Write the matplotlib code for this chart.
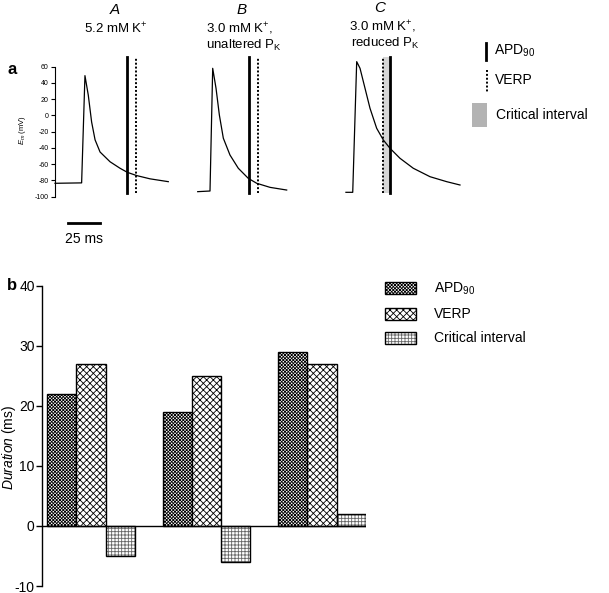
import matplotlib
matplotlib.use("Agg")
import matplotlib.pyplot as plt
from matplotlib.lines import Line2D
from matplotlib.patches import Rectangle
import numpy as np

plt.rcParams['font.family'] = ['Liberation Sans', 'DejaVu Sans']
plt.rcParams['mathtext.fontset'] = 'custom'
plt.rcParams['mathtext.rm'] = 'Liberation Sans'
plt.rcParams['mathtext.it'] = 'Liberation Sans:italic'
plt.rcParams['mathtext.bf'] = 'Liberation Sans:bold'
plt.rcParams['hatch.linewidth'] = 0.6
plt.rcParams['axes.unicode_minus'] = False

# ---------------- data: panel a (action potential traces, time in ms on shared axis) ---
trace_a_t = [0, 20.8, 23.4, 26.0, 28.6, 31.3, 35.2, 43.0, 50.8, 56.5, 63.8, 74.2, 88.5]
trace_a_v = [-83.5, -83, 49, 25, -8, -30, -45, -57, -65, -70, -74, -78, -81.5]
trace_b_t = [111.5, 121.1, 123.2, 125.8, 128.4, 131.5, 136.7, 143.2, 151.0, 157.6, 168.0, 181.0]
trace_b_v = [-93.8, -93, 58, 33.4, 0.6, -28, -48.7, -65, -77.4, -83.5, -88.5, -91.8]
trace_c_t = [227.3, 232.6, 235.7, 238.3, 242.2, 246.1, 251.3, 256.5, 261.7, 269.5, 279.9, 293.0, 306.0, 316.4]
trace_c_v = [-94.6, -94.6, 66.2, 58, 33.4, 8.8, -15.8, -30.2, -40.4, -52.7, -65, -75.4, -81.5, -85.6]
apd_marks = [56.5, 151.8, 261.7]
verp_marks = [63.0, 158.4, 256.0]
mark_range = [-95.8, 72.3]
scale_bar_ms = 25
yticks_a = [-100, -80, -60, -40, -20, 0, 20, 40, 60]

# ---------------- data: panel b ----------------
groups = ['A', 'B', 'C']
apd90 = [22, 19, 29]
verp = [27, 25, 27]
critical = [-5, -6, 2]
yticks_b = [-10, 0, 10, 20, 30, 40]

W, H = 609, 593
fig = plt.figure(figsize=(W / 100, H / 100), dpi=100)

def fx(px):
    return px / W

def fy(py):
    return 1 - py / H

# ---------------- panel a ----------------
axa = fig.add_axes([fx(55), fy(196.7), fx(470) - fx(55), fy(54.5) - fy(196.7)])
axa.set_xlim(0, (470 - 55) / 1.28)
axa.set_ylim(-100, 75)
for s in ['top', 'right', 'bottom']:
    axa.spines[s].set_visible(False)
axa.spines['left'].set_bounds(-100, 60)
axa.spines['left'].set_linewidth(0.8)
axa.set_xticks([])
axa.set_yticks(yticks_a)
axa.tick_params(axis='y', direction='out', length=3, width=0.8, labelsize=5, pad=1.5)

for t, v in [(trace_a_t, trace_a_v), (trace_b_t, trace_b_v), (trace_c_t, trace_c_v)]:
    axa.plot(t, v, color='black', lw=0.9, clip_on=False)

axa.fill_betweenx(mark_range, verp_marks[2], apd_marks[2], color='#d6d6d6', lw=0, clip_on=False, zorder=1)
for xm in apd_marks:
    axa.plot([xm, xm], mark_range, color='black', lw=2, clip_on=False, zorder=3)
for xm in verp_marks:
    axa.plot([xm, xm], mark_range, color='black', lw=1.4, ls=(0, (1, 1)), clip_on=False, zorder=3)

sb0 = (68 - 55) / 1.28
axa.plot([sb0, sb0 + scale_bar_ms], [-132, -132], color='black', lw=2, clip_on=False)
axa.text(sb0 + scale_bar_ms / 2, -143, f"{scale_bar_ms} ms", ha='center', va='top', fontsize=10)

fig.text(fx(22), fy(130), r"$E_m$ (mV)", rotation=90, ha='center', va='center', fontsize=5.5)
fig.text(fx(12), fy(70), "a", fontsize=12, fontweight='bold', ha='center', va='center')

fig.text(fx(115), fy(10), "A", fontsize=11, style='italic', ha='center', va='center')
fig.text(fx(116), fy(28.5), r"5.2 mM K$^{+}$", fontsize=9.5, ha='center', va='center')
fig.text(fx(242), fy(10), "B", fontsize=11, style='italic', ha='center', va='center')
fig.text(fx(240), fy(28.5), r"3.0 mM K$^{+}$,", fontsize=9.5, ha='center', va='center')
fig.text(fx(244), fy(45), r"unaltered P$_{\mathrm{K}}$", fontsize=9.5, ha='center', va='center')
fig.text(fx(380), fy(8), "C", fontsize=11, style='italic', ha='center', va='center')
fig.text(fx(383), fy(27), r"3.0 mM K$^{+}$,", fontsize=9.5, ha='center', va='center')
fig.text(fx(385), fy(43.5), r"reduced P$_{\mathrm{K}}$", fontsize=9.5, ha='center', va='center')

fig.add_artist(Line2D([fx(486), fx(486)], [fy(43), fy(60)], color='black', lw=2))
fig.text(fx(494), fy(51), r"APD$_{90}$", fontsize=10, ha='left', va='center')
fig.add_artist(Line2D([fx(487), fx(487)], [fy(70), fy(92)], color='black', lw=1.4, ls=(0, (1, 1))))
fig.text(fx(495), fy(80), "VERP", fontsize=10, ha='left', va='center')
fig.add_artist(Rectangle((fx(472), fy(127)), fx(487) - fx(472), fy(103) - fy(127),
                         transform=fig.transFigure, facecolor='#b3b3b3', edgecolor='none'))
fig.text(fx(496), fy(115), "Critical interval", fontsize=10, ha='left', va='center')

# ---------------- panel b ----------------
axb = fig.add_axes([fx(42.3), fy(586), fx(365.7) - fx(42.3), fy(285.7) - fy(586)])
x = np.arange(len(groups))
w = 0.2522
b1 = axb.bar(x - w, apd90, width=w, facecolor='white', edgecolor='black', hatch='xxxxxxxxxx', lw=1)
b2 = axb.bar(x, verp, width=w, facecolor='white', edgecolor='black', hatch='xxxxx', lw=1)
b3h = axb.bar(x + w, critical, width=w, facecolor='white', edgecolor='#666666', hatch='+++++', lw=0)
b3o = axb.bar(x + w, critical, width=w, fill=False, edgecolor='black', lw=1)
axb.axhline(0, color='black', lw=1)
axb.set_xlim(-0.4216, 2 + 1.5 * w)
axb.set_ylim(-10, 40)
for s in ['top', 'right', 'bottom']:
    axb.spines[s].set_visible(False)
axb.spines['left'].set_linewidth(1)
axb.set_xticks([])
axb.set_yticks(yticks_b)
axb.tick_params(axis='y', direction='out', length=4, width=1, labelsize=10, pad=1.5)

fig.text(fx(9), fy(447), r"$\mathit{Duration}$ (ms)", rotation=90, ha='center', va='center', fontsize=10)
fig.text(fx(12), fy(285), "b", fontsize=12, fontweight='bold', ha='center', va='center')

axb.legend(handles=[b1[0], b2[0], (b3h[0], b3o[0])], labels=[r"APD$_{90}$", "VERP", "Critical interval"],
           loc='upper left', bbox_to_anchor=(fx(385), fy(281)),
           bbox_transform=fig.transFigure, frameon=False, fontsize=10,
           handlelength=2.2, handleheight=0.95, handletextpad=1.3, labelspacing=0.72,
           borderpad=0, borderaxespad=0)

fig.savefig("out.png", dpi=100)
